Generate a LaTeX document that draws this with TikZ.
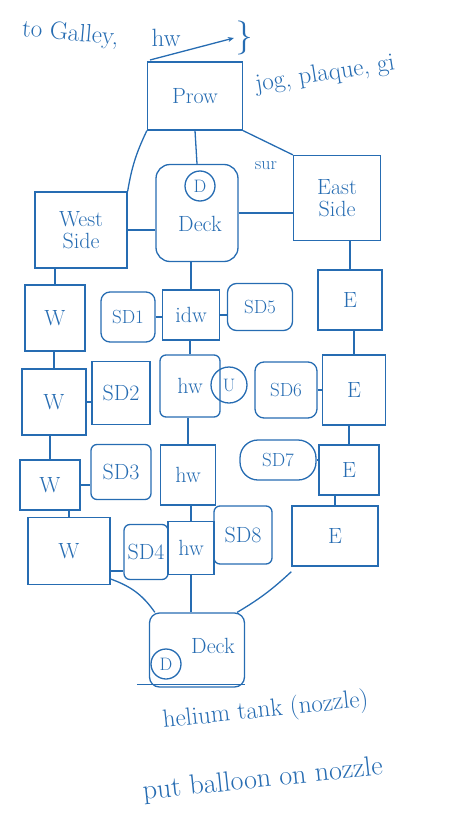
\documentclass[tikz,border=0pt]{standalone}
\usetikzlibrary{positioning,arrows.meta,calc}
\definecolor{pen}{RGB}{38,108,178}

\begin{document}
\begin{tikzpicture}[
    x=1pt, y=-1pt,
    >={Stealth[length=6pt,width=5pt]},
    line width=1.2pt, draw=pen,
    box/.style={draw=pen, line width=1.3pt, text=pen, align=center, inner sep=0pt,
                font=\fontsize{22}{22}\selectfont},
    sdbox/.style={box, rounded corners=9pt, font=\fontsize{19}{19}\selectfont},
    ring/.style={draw=pen, line width=1.3pt, circle, text=pen, inner sep=0pt,
                 font=\fontsize{18}{18}\selectfont},
    hand/.style={text=pen, inner sep=1pt, font=\fontsize{#1}{#1}\selectfont},
    hand/.default=24,
    link/.style={draw=pen, line width=1.3pt},
]
  \useasboundingbox (0,0) rectangle (470,819);

  % ---------------- notes at the top ----------------
  \node[hand=25, anchor=base west, rotate=-5] (galley) at (20,36) {to Galley,};
  \node[hand=25, anchor=base west] (hwnote) at (150,46) {hw};
  \node[hand=34, anchor=center] (brace) at (244,38) {\}};
  \coordinate (ulstart) at (150,60);
  \draw[link, ->] (ulstart) -- (brace.west);
  \node[hand=25, anchor=base west, rotate=9] (jog) at (255,92) {jog, plaque, gi};

  % ---------------- bow ----------------
  \node[box, minimum width=95, minimum height=68] (prow) at (195,96) {Prow};
  \node[box, minimum width=92, minimum height=76] (west) at (81,230) {West\\Side};
  \node[box, rounded corners=14pt, minimum width=82, minimum height=97] (deckT) at (197,213) {};
  \node[ring, minimum size=30] (dT) at (200,186) {D};
  \node[hand=22, anchor=center] (deckTlab) at (200,224) {Deck};
  \node[box, minimum width=87, minimum height=85] (east) at (337,198) {East\\Side};
  \node[hand=18] (sur) at (266,166) {sur};

  \draw[link] (prow.south west) to[bend right=8] (west.north east);
  \draw[link] (prow.south) -- (deckT.north);
  \draw[link] (prow.south east) -- (east.north west);
  \draw[link] (west.east) -- (west.east -| deckT.west);
  \draw[link] (deckT.east) -- (deckT.east -| east.west);

  % ---------------- row 1 ----------------
  \node[box, minimum width=60, minimum height=66] (w1) at (55,318) {W};
  \node[sdbox, minimum width=54, minimum height=50] (sd1) at (128,317) {SD1};
  \node[box, minimum width=57, minimum height=50] (idw) at (191,315) {idw};
  \node[sdbox, minimum width=65, minimum height=47] (sd5) at (260,307) {SD5};
  \node[box, minimum width=64, minimum height=60] (e1) at (350,300) {E};

  \draw[link] (w1.north) -- (w1.north |- west.south);
  \draw[link] (idw.north) -- (idw.north |- deckT.south);
  \draw[link] (e1.north) -- (e1.north |- east.south);
  \draw[link] (sd1.east) -- (sd1.east -| idw.west);
  \draw[link] (idw.east) -- (idw.east -| sd5.west);

  % ---------------- row 2 ----------------
  \node[box, minimum width=64, minimum height=66] (w2) at (54,402) {W};
  \node[box, minimum width=58, minimum height=63] (sd2) at (121,393) {SD2};
  \node[box, rounded corners=6pt, minimum width=60, minimum height=62] (hw2) at (190,386) {hw};
  \node[ring, minimum size=36] (u) at (229,385) {U};
  \node[sdbox, minimum width=62, minimum height=56] (sd6) at (286,390) {SD6};
  \node[box, minimum width=63, minimum height=70] (e2) at (354,390) {E};

  \draw[link] (w2.north) -- (w2.north |- w1.south);
  \draw[link] (hw2.north) -- (hw2.north |- idw.south);
  \draw[link] (e2.north) -- (e2.north |- e1.south);
  \draw[link] (w2.east) -- (w2.east -| sd2.west);
  \draw[link] (sd6.east) -- (sd6.east -| e2.west);

  % ---------------- row 3 ----------------
  \node[box, minimum width=60, minimum height=50] (w3) at (50,485) {W};
  \node[box, rounded corners=6pt, minimum width=60, minimum height=55] (sd3) at (121,472) {SD3};
  \node[box, minimum width=55, minimum height=60] (hw3) at (188,475) {hw};
  \node[sdbox, rounded corners=18pt, minimum width=76, minimum height=40] (sd7) at (278,460) {SD7};
  \node[box, minimum width=60, minimum height=50] (e3) at (349,470) {E};

  \draw[link] (w3.north) -- (w3.north |- w2.south);
  \draw[link] (hw3.north) -- (hw3.north |- hw2.south);
  \draw[link] (e3.north) -- (e3.north |- e2.south);
  \draw[link] (w3.east) -- (w3.east -| sd3.west);
  \draw[link] (sd7.east) -- (sd7.east -| e3.west);

  % ---------------- row 4 ----------------
  \node[box, minimum width=82, minimum height=67] (w4) at (69,551) {W};
  \node[box, rounded corners=6pt, minimum width=44, minimum height=55] (sd4) at (146,552) {SD4};
  \node[box, minimum width=46, minimum height=53] (hw4) at (191,548) {hw};
  \node[box, rounded corners=6pt, minimum width=58, minimum height=58] (sd8) at (243,535) {SD8};
  \node[box, minimum width=86, minimum height=60] (e4) at (335,536) {E};

  \draw[link] (w4.north) -- (w4.north |- w3.south);
  \draw[link] (hw4.north) -- (hw4.north |- hw3.south);
  \draw[link] (e4.north) -- (e4.north |- e3.south);
  \draw[link] ([yshift=-20]w4.east) -- ([yshift=-20]w4.east -| sd4.west);

  % ---------------- stern ----------------
  \node[box, rounded corners=10pt, minimum width=95, minimum height=74] (deckB) at (197,650) {};
  \node[ring, minimum width=30, minimum height=30] (dB) at (166,664) {D};
  \node[hand=22, anchor=center] (deckBlab) at (213,646) {Deck};
  \coordinate (deckBline) at ([xshift=-12,yshift=3]deckB.south west);
  \draw[link] (deckBline) -- ([yshift=3]deckB.south east);

  \draw[link] ([yshift=-28]w4.east) to[out=-20, in=125] ([xshift=6]deckB.north west);
  \draw[link] (hw4.south) -- (hw4.south |- deckB.north);
  \draw[link] ([yshift=-5]e4.south west) to[bend left=6] ([xshift=-8]deckB.north east);

  % ---------------- notes at the bottom ----------------
  \node[hand=25, anchor=base west, rotate=6] (helium) at (162,728) {helium tank (nozzle)};
  \node[hand=28, anchor=base west, rotate=6] (balloon) at (142,800) {put balloon on nozzle};
\end{tikzpicture}
\end{document}
